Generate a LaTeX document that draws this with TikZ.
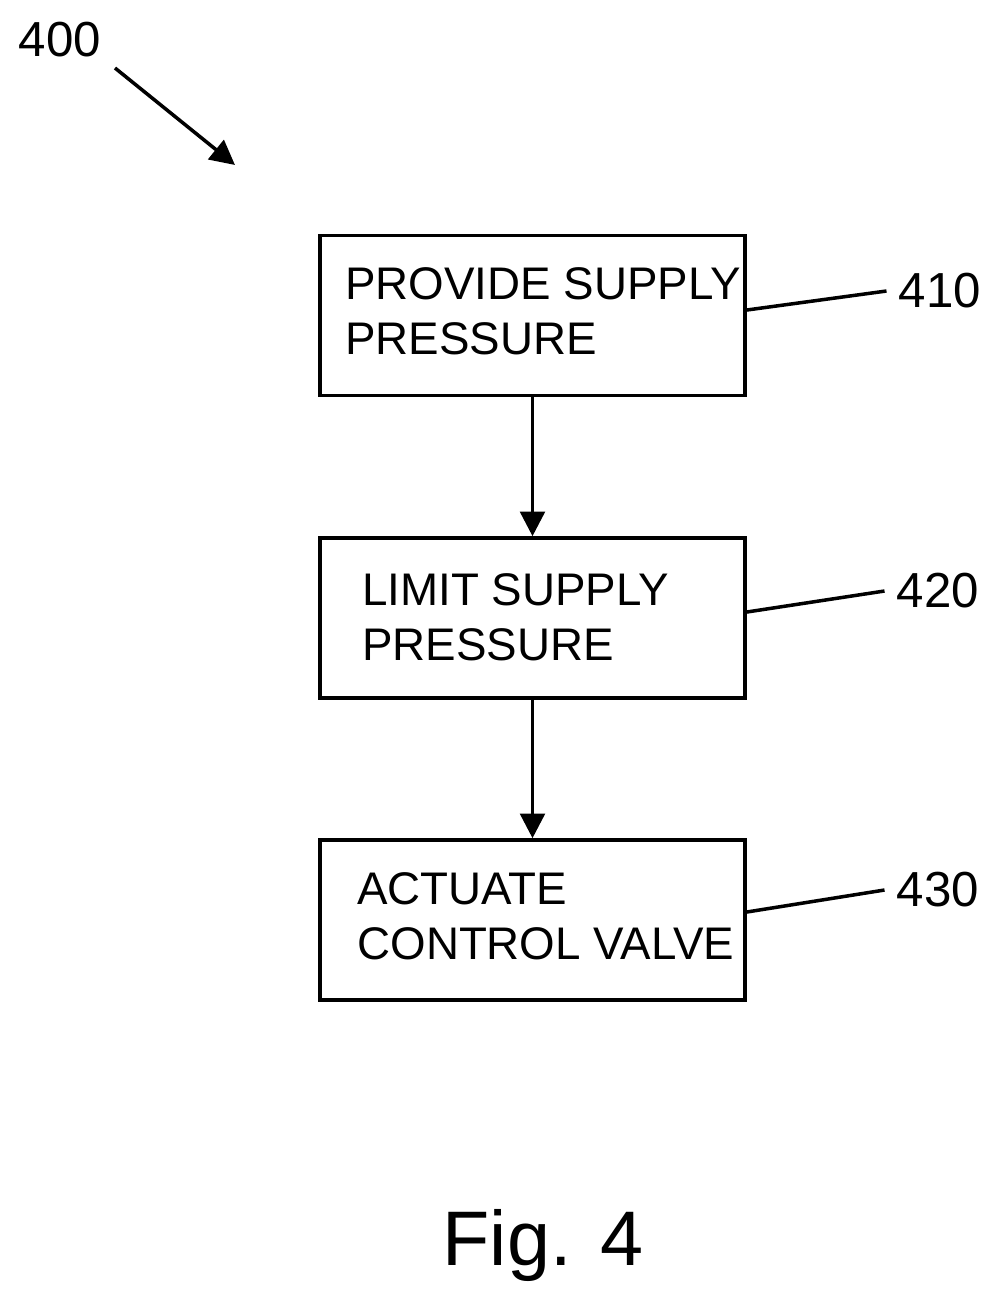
\documentclass[tikz,border=0pt]{standalone}
\usepackage{fontspec}
\setmainfont{Liberation Sans}
\usetikzlibrary{positioning,arrows.meta}
\begin{document}
\begin{tikzpicture}[x=0.01cm,y=-0.01cm,
  stepbox/.style={draw,line width=1pt,minimum width=4.25cm,minimum height=1.6cm},
  steptext/.style={align=left,font=\fontsize{13}{15.6}\selectfont,anchor=west},
  lead/.style={line width=1pt},
  flow/.style={line width=1pt,-{Triangle[length=7pt,width=7pt]}},
  ref/.style={font=\fontsize{14}{16}\selectfont}]
\useasboundingbox (0,0) rectangle (1001,1308);
\node[stepbox] (s410) at (532.5,315.5) {};
\node[stepbox] (s420) at (532.5,618) {};
\node[stepbox] (s430) at (532.5,920) {};
\node[steptext] at (333,311) {PROVIDE SUPPLY\\PRESSURE};
\node[steptext] at (350,617) {LIMIT SUPPLY\\PRESSURE};
\node[steptext] at (345,916) {ACTUATE\\CONTROL VALVE};
\draw[flow] (s410) -- (s420);
\draw[flow] (s420) -- (s430);
% reference numerals
\node[ref] (r410) at (940,291) {410};
\node[ref] (r420) at (938,591) {420};
\node[ref] (r430) at (938,890) {430};
\draw[lead] (s410.east |- 0,310) -- (r410.west);
\draw[lead] (s420.east |- 0,612) -- (r420.west);
\draw[lead] (s430.east |- 0,912) -- (r430.west);
\node[ref] (r400) at (60,40) {400};
\coordinate (tip) at (235,165);
\draw[flow] (115,68) -- (tip);
\node[font=\fontsize{22}{26}\selectfont] (fig) at (543,1245) {Fig. 4};
\end{tikzpicture}
\end{document}
